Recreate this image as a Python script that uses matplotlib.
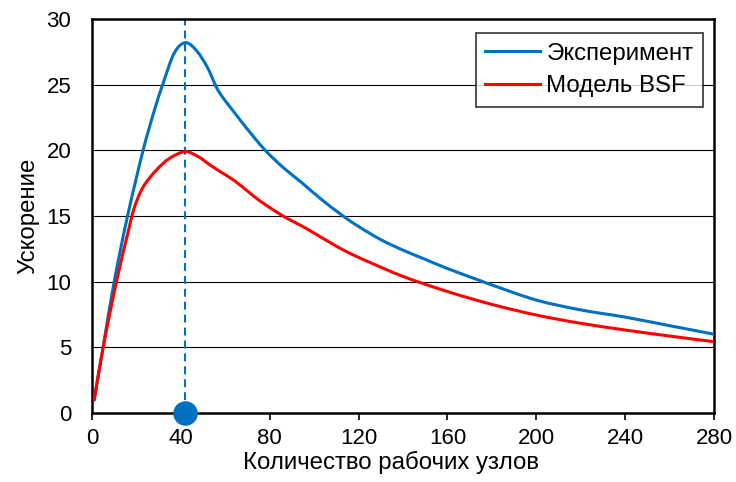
import matplotlib
matplotlib.use("Agg")
import matplotlib.pyplot as plt
from matplotlib.path import Path
from matplotlib.patches import PathPatch

plt.rcParams['font.family'] = ['Liberation Sans', 'DejaVu Sans']

# Data
exp_x = [1, 5, 10, 16, 23, 28, 32, 37, 42, 47, 52, 56, 59, 64, 70, 78, 86, 94,
         103, 113, 120, 130, 140, 150, 160, 176, 180, 200, 220, 240, 260, 280]
exp_y = [1.0, 5.0, 10.0, 15.0, 20.0, 23.0, 25.1, 27.4, 28.2, 27.6, 26.3, 24.8,
         24.0, 22.9, 21.6, 20.0, 18.7, 17.6, 16.3, 15.0, 14.2, 13.2, 12.4, 11.7,
         11.0, 10.0, 9.75, 8.6, 7.85, 7.3, 6.65, 6.0]

bsf_x = [1, 5, 11, 16, 19, 23, 29, 35, 42, 48, 53, 58, 64, 70, 76, 86, 97, 110,
         120, 140, 160, 180, 200, 220, 240, 260, 280]
bsf_y = [1.0, 5.0, 10.0, 13.6, 15.6, 17.2, 18.5, 19.4, 19.9, 19.5, 18.9, 18.35,
         17.7, 16.9, 16.1, 15.0, 14.0, 12.7, 11.85, 10.4, 9.25, 8.27, 7.46, 6.83,
         6.32, 5.86, 5.43]

peak_x = 42
x_ticks = [0, 40, 80, 120, 160, 200, 240, 280]
y_ticks = [0, 5, 10, 15, 20, 25, 30]
series_names = ["Эксперимент", "Модель BSF"]
x_label = "Количество рабочих узлов"
y_label = "Ускорение"

blue = "#0070C0"
red = "#FF0000"


def smooth_path(xs, ys):
    """Smoothed line through the points (Catmull-Rom as cubic Bezier), like Excel."""
    pts = list(zip(xs, ys))
    n = len(pts)
    verts = [pts[0]]
    codes = [Path.MOVETO]
    for i in range(n - 1):
        p0 = pts[i - 1] if i > 0 else pts[i]
        p1 = pts[i]
        p2 = pts[i + 1]
        p3 = pts[i + 2] if i + 2 < n else pts[i + 1]
        c1 = (p1[0] + (p2[0] - p0[0]) / 6, p1[1] + (p2[1] - p0[1]) / 6)
        c2 = (p2[0] - (p3[0] - p1[0]) / 6, p2[1] - (p3[1] - p1[1]) / 6)
        verts += [c1, c2, p2]
        codes += [Path.CURVE4] * 3
    return Path(verts, codes)


fig = plt.figure(figsize=(7.36, 4.82), dpi=100)
ax = fig.add_axes([92 / 736, 1 - 413 / 482, (714 - 92) / 736, (413 - 19) / 482])

for y in y_ticks[1:-1]:
    ax.axhline(y, color="black", linewidth=0.8, zorder=1)

for xs, ys, c, name in [(exp_x, exp_y, blue, series_names[0]),
                        (bsf_x, bsf_y, red, series_names[1])]:
    ax.add_patch(PathPatch(smooth_path(xs, ys), facecolor="none", edgecolor=c,
                           linewidth=2.2, zorder=3, capstyle="round", joinstyle="round"))
    ax.plot([], [], color=c, linewidth=2.2, label=name)

ax.plot([peak_x, peak_x], [y_ticks[0], y_ticks[-1]], color=blue, linewidth=1.5,
        linestyle=(0, (3.8, 2.4)), zorder=2)
ax.plot([peak_x], [0], marker="o", markersize=16.6, color=blue, clip_on=False, zorder=5)

ax.set_xlim(0, 280)
ax.set_ylim(0, 30)
ax.set_xticks(x_ticks)
ax.set_yticks(y_ticks)
ax.tick_params(axis="x", direction="out", length=5, width=1.2, labelsize=16, pad=6)
ax.tick_params(axis="y", length=0, labelsize=16, pad=15)

for s in ax.spines.values():
    s.set_linewidth(1.8)
    s.set_color("black")

ax.set_xlabel(x_label, fontsize=17.3, labelpad=1)
ax.xaxis.label.set_x((391 - 92) / 622)
ax.set_ylabel(y_label, fontsize=17.3, labelpad=5)

leg = ax.legend(loc="upper right", bbox_to_anchor=(1 - 11 / 622, 1 - 14 / 394), fontsize=17.3,
                frameon=True, fancybox=False, edgecolor="black", handlelength=2.3,
                handletextpad=0.25, borderpad=0.4, labelspacing=0.45, borderaxespad=0)
leg.get_frame().set_linewidth(1.2)

fig.savefig("out.png", dpi=100)
